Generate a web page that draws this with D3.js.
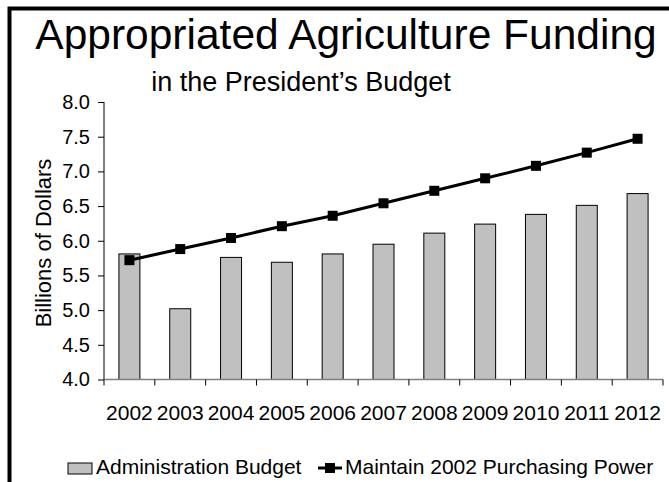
<!DOCTYPE html>
<html>
<head>
<meta charset="utf-8">
<script src="https://cdn.jsdelivr.net/npm/d3@7/dist/d3.min.js"></script>
<style>
  html, body { margin: 0; padding: 0; background: #fff; }
  svg { display: block; font-family: "Liberation Sans", Arial, sans-serif; }
</style>
</head>
<body>
<svg id="chart" width="669" height="482"></svg>
<script>
// Fiscal years shown on the category axis
const years = ["2002", "2003", "2004", "2005", "2006", "2007", "2008", "2009", "2010", "2011", "2012"];
// Administration budget request, billions of dollars (bars)
const adminBudget = [5.81, 5.02, 5.76, 5.69, 5.81, 5.95, 6.11, 6.24, 6.38, 6.51, 6.68];
// Funding needed to keep 2002 purchasing power, billions of dollars (line)
const purchasingPower = [5.72, 5.88, 6.04, 6.21, 6.36, 6.54, 6.72, 6.90, 7.08, 7.27, 7.47];
// Value-axis ticks
const yTicks = [4.0, 4.5, 5.0, 5.5, 6.0, 6.5, 7.0, 7.5, 8.0];
const seriesNames = ["Administration Budget", "Maintain 2002 Purchasing Power"];

const svg = d3.select("#chart");
const plot = { left: 104, right: 663, top: 102, bottom: 379.5 };

// Outer frame (runs off the right and bottom edges)
svg.append("rect")
  .attr("x", 9.5).attr("y", 8.5)
  .attr("width", 700).attr("height", 520)
  .attr("fill", "none").attr("stroke", "#000").attr("stroke-width", 4);

// Titles
svg.append("text")
  .attr("x", 346).attr("y", 49)
  .attr("text-anchor", "middle")
  .attr("font-size", 42.5)
  .text("Appropriated Agriculture Funding");
svg.append("text")
  .attr("x", 301).attr("y", 91)
  .attr("text-anchor", "middle")
  .attr("font-size", 27)
  .text("in the President\u2019s Budget");

const x = d3.scaleBand().domain(years).range([plot.left, plot.right]).paddingInner(0).paddingOuter(0);
const y = d3.scaleLinear().domain([4, 8]).range([plot.bottom, plot.top]);

// Bars
const barW = 21;
svg.append("g").selectAll("rect")
  .data(years)
  .join("rect")
  .attr("x", (d) => x(d) + x.bandwidth() / 2 - barW / 2)
  .attr("y", (d, i) => y(adminBudget[i]))
  .attr("width", barW)
  .attr("height", (d, i) => y(4) - y(adminBudget[i]))
  .attr("fill", "#c0c0c0")
  .attr("stroke", "#000")
  .attr("stroke-width", 1);

// Value axis
const yAxis = svg.append("g")
  .attr("transform", `translate(${plot.left},0)`)
  .call(d3.axisLeft(y).tickValues(yTicks).tickFormat(d3.format(".1f")).tickSize(6).tickPadding(8));
yAxis.select(".domain").attr("stroke", "#000").attr("d", `M0,${plot.top}V${plot.bottom}`);
yAxis.selectAll(".tick line").attr("stroke", "#000");
yAxis.selectAll(".tick text").attr("font-size", 20).attr("fill", "#000")
  .attr("font-family", "Liberation Sans, Arial, sans-serif");

// Category axis: tick marks on band boundaries, labels centred in each band
const xAxis = svg.append("g").attr("transform", `translate(0,${plot.bottom})`);
xAxis.append("line")
  .attr("x1", plot.left).attr("x2", plot.right)
  .attr("stroke", "#808080").attr("stroke-width", 1.5);
xAxis.selectAll("line.tk")
  .data(years.concat(["end"]))
  .join("line")
  .attr("class", "tk")
  .attr("x1", (d, i) => plot.left + i * x.bandwidth())
  .attr("x2", (d, i) => plot.left + i * x.bandwidth())
  .attr("y1", 0).attr("y2", 6)
  .attr("stroke", "#000");
xAxis.selectAll("text")
  .data(years)
  .join("text")
  .attr("x", (d) => x(d) + x.bandwidth() / 2)
  .attr("y", 40)
  .attr("text-anchor", "middle")
  .attr("font-size", 21)
  .text((d) => d);

// Axis title
svg.append("text")
  .attr("transform", "translate(51,243) rotate(-90)")
  .attr("text-anchor", "middle")
  .attr("font-size", 22)
  .text("Billions of Dollars");

// Purchasing-power line with square markers
const line = d3.line()
  .x((d, i) => x(years[i]) + x.bandwidth() / 2)
  .y((d) => y(d));
svg.append("path")
  .datum(purchasingPower)
  .attr("d", line)
  .attr("fill", "none")
  .attr("stroke", "#000")
  .attr("stroke-width", 3);
const mk = 10;
svg.append("g").selectAll("rect")
  .data(purchasingPower)
  .join("rect")
  .attr("x", (d, i) => x(years[i]) + x.bandwidth() / 2 - mk / 2)
  .attr("y", (d) => y(d) - mk / 2)
  .attr("width", mk).attr("height", mk)
  .attr("fill", "#000");

// Legend
const legend = svg.append("g");
legend.append("rect")
  .attr("x", 68).attr("y", 463).attr("width", 24).attr("height", 11)
  .attr("fill", "#c0c0c0").attr("stroke", "#000").attr("stroke-width", 1);
legend.append("text")
  .attr("x", 96).attr("y", 474).attr("font-size", 21)
  .text(seriesNames[0]);
legend.append("line")
  .attr("x1", 318).attr("x2", 342).attr("y1", 468).attr("y2", 468)
  .attr("stroke", "#000").attr("stroke-width", 3);
legend.append("rect")
  .attr("x", 325).attr("y", 463).attr("width", 10).attr("height", 10)
  .attr("fill", "#000");
legend.append("text")
  .attr("x", 345).attr("y", 474).attr("font-size", 21)
  .text(seriesNames[1]);
</script>
</body>
</html>
